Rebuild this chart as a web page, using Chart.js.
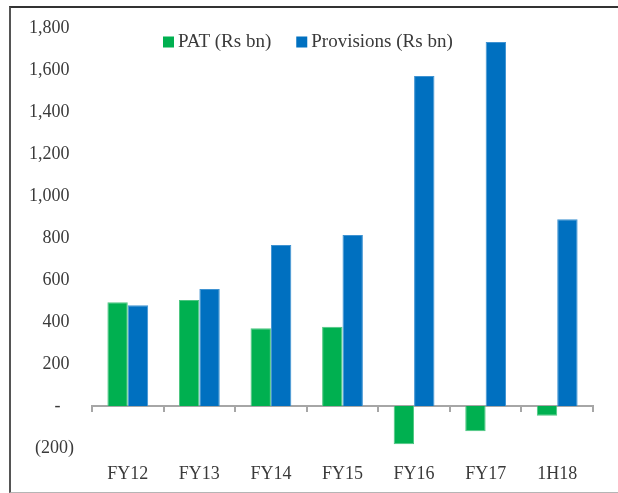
<!DOCTYPE html>
<html>
<head>
<meta charset="utf-8">
<script src="https://cdn.jsdelivr.net/npm/chart.js@4/dist/chart.umd.min.js"></script>
<style>
  body { margin: 0; background: #fff; }
  .wrap { position: relative; width: 618px; height: 493px; overflow: hidden; }
  .frame {
    position: absolute; left: 9px; top: 6px; width: 700px; height: 487px;
    box-sizing: border-box;
    border-left: 2px solid #555; border-top: 2px solid #333; border-bottom: 1px solid #b5b5b5;
  }
  canvas { position: absolute; left: 0; top: 0; }
</style>
</head>
<body>
<div class="wrap">
  <div class="frame"></div>
  <canvas id="chart" width="618" height="493"></canvas>
</div>
<script>
const categories = ["FY12", "FY13", "FY14", "FY15", "FY16", "FY17", "1H18"];
const patValues = [494, 505, 370, 377, -182, -120, -47];
const provisionValues = [480, 557, 767, 814, 1572, 1733, 889];
const seriesNames = ["PAT (Rs bn)", "Provisions (Rs bn)"];

const textColor = "#3a3a3a";
const fontFamily = "'Liberation Serif', 'Times New Roman', serif";

// accounting style: 1,800 / - / (200)
const fmt = (v) => {
  if (v === 0) return "-   ";
  if (v < 0) return "(" + Math.abs(v).toLocaleString("en-US") + ")";
  return v.toLocaleString("en-US") + " ";
};

// legend sits inside the plot area, drawn by hand
const insideLegend = {
  id: "insideLegend",
  afterDraw: (chart) => {
    const { ctx, chartArea } = chart;
    ctx.save();
    ctx.font = "19px " + fontFamily;
    ctx.textBaseline = "middle";
    ctx.textAlign = "left";
    let x = chartArea.left + 71;
    const y = chartArea.top + 14;
    chart.data.datasets.forEach((ds) => {
      ctx.fillStyle = ds.backgroundColor;
      ctx.fillRect(x, y - 5.5, 11, 11);
      ctx.fillStyle = textColor;
      ctx.fillText(ds.label, x + 15, y);
      x += 15 + ctx.measureText(ds.label).width + 25;
    });
    ctx.restore();
  }
};

new Chart(document.getElementById("chart"), {
  type: "bar",
  plugins: [insideLegend],
  data: {
    labels: categories,
    datasets: [
      {
        label: seriesNames[0],
        data: patValues,
        backgroundColor: "#00B050",
        borderColor: "#4cc680",
        borderWidth: 1,
        categoryPercentage: 0.57,
        barPercentage: 1
      },
      {
        label: seriesNames[1],
        data: provisionValues,
        backgroundColor: "#0070C0",
        borderColor: "#3f93d2",
        borderWidth: 1,
        categoryPercentage: 0.57,
        barPercentage: 1
      }
    ]
  },
  options: {
    responsive: false,
    animation: false,
    layout: { padding: { top: 28, right: 25, bottom: 0, left: 0 } },
    plugins: {
      legend: { display: false },
      tooltip: { enabled: false }
    },
    scales: {
      x: {
        position: "bottom",
        grid: { display: false },
        border: { display: false },
        ticks: {
          color: textColor,
          font: { family: fontFamily, size: 18 },
          padding: 7,
          maxRotation: 0
        },
        afterFit: (scale) => { scale.height = 45; }
      },
      x2: {
        type: "category",
        position: { y: 0 },
        offset: true,
        grid: {
          offset: true,
          drawOnChartArea: false,
          drawTicks: true,
          tickLength: 5,
          color: "#a6a6a6",
          lineWidth: 2
        },
        border: { color: "#a6a6a6", width: 2 },
        ticks: { display: false }
      },
      y: {
        min: -200,
        max: 1800,
        grid: { display: false },
        border: { display: false },
        ticks: {
          stepSize: 200,
          color: textColor,
          font: { family: fontFamily, size: 18 },
          padding: 10,
          callback: (v) => fmt(v)
        },
        afterFit: (scale) => { scale.width = 92; }
      }
    }
  }
});
</script>
</body>
</html>
